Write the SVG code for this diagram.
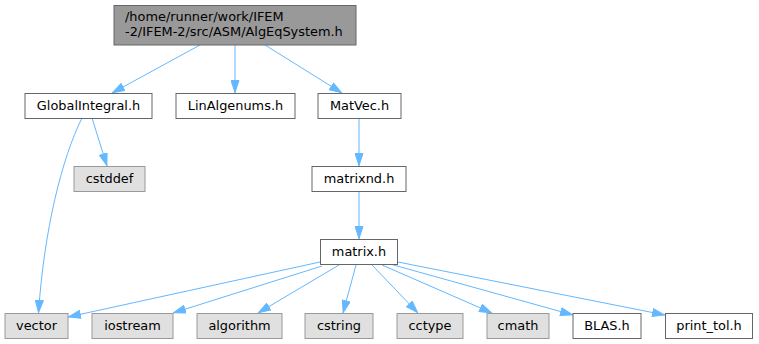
<svg xmlns="http://www.w3.org/2000/svg" width="759" height="344" viewBox="0 0 759 344">
<style>
  .n rect { fill: #ffffff; stroke: #666666; stroke-width: 1; }
  .ext rect { fill: #e0e0e0; stroke: #999999; }
  .root rect { fill: #999999; stroke: #666666; }
  text { font-family: "DejaVu Sans", sans-serif; font-size: 12.9px; fill: #000000; }
  .n text { text-anchor: middle; }
  .root text { text-anchor: start; }
  .e { fill: none; stroke: #63b8ff; stroke-width: 1; marker-end: url(#arr); }
</style>
<defs>
  <marker id="arr" viewBox="0 0 13 9" refX="13" refY="4.5" markerWidth="13" markerHeight="9" markerUnits="userSpaceOnUse" orient="auto">
    <path d="M0.5,0.5 L12.5,4.5 L0.5,8.5 z" fill="#63b8ff" stroke="#63b8ff" stroke-width="1"/>
  </marker>
</defs>
<rect width="759" height="344" fill="#ffffff"/>
<g id="edges">
  <path class="e" d="M200,45 L112,93"/>
  <path class="e" d="M235,45 L235,93"/>
  <path class="e" d="M265,45 L342,93"/>
  <path class="e" d="M92,118 L107,166"/>
  <path class="e" d="M82,118 C62,158 44,230 38.5,313"/>
  <path class="e" d="M359,118 L359,166"/>
  <path class="e" d="M359,192 L359,239"/>
  <path class="e" d="M320,262 L68,317"/>
  <path class="e" d="M322,266 L173,313"/>
  <path class="e" d="M339,265 L258,313"/>
  <path class="e" d="M356,265 L343,313"/>
  <path class="e" d="M372,265 L418,313"/>
  <path class="e" d="M382,265 L492,313"/>
  <path class="e" d="M390,264 L573,315"/>
  <path class="e" d="M398,262 L665,315"/>
</g>
<g id="root" class="root">
  <rect x="114" y="5.5" width="242" height="39.5"/>
  <text x="125" y="20.5">/home/runner/work/IFEM</text>
  <text x="125" y="35.5">-2/IFEM-2/src/ASM/AlgEqSystem.h</text>
</g>
<g id="GlobalIntegral" class="n">
  <rect x="25" y="93.5" width="127" height="25"/>
  <text x="88.5" y="110">GlobalIntegral.h</text>
</g>
<g id="LinAlgenums" class="n">
  <rect x="176" y="93.5" width="119" height="25"/>
  <text x="235.5" y="110">LinAlgenums.h</text>
</g>
<g id="MatVec" class="n">
  <rect x="318" y="93.5" width="83" height="25"/>
  <text x="359.5" y="110">MatVec.h</text>
</g>
<g id="cstddef" class="n ext">
  <rect x="74" y="166.5" width="71" height="25"/>
  <text x="109.5" y="183">cstddef</text>
</g>
<g id="matrixnd" class="n">
  <rect x="312" y="166.5" width="94" height="25"/>
  <text x="359" y="183">matrixnd.h</text>
</g>
<g id="matrix" class="n">
  <rect x="320.5" y="239.5" width="77" height="25"/>
  <text x="359" y="256">matrix.h</text>
</g>
<g id="vector" class="n ext">
  <rect x="5" y="313.5" width="63" height="25"/>
  <text x="36.5" y="330">vector</text>
</g>
<g id="iostream" class="n ext">
  <rect x="92" y="313.5" width="81" height="25"/>
  <text x="132.5" y="330">iostream</text>
</g>
<g id="algorithm" class="n ext">
  <rect x="197" y="313.5" width="85" height="25"/>
  <text x="239.5" y="330">algorithm</text>
</g>
<g id="cstring" class="n ext">
  <rect x="305" y="313.5" width="68" height="25"/>
  <text x="339" y="330">cstring</text>
</g>
<g id="cctype" class="n ext">
  <rect x="397" y="313.5" width="66" height="25"/>
  <text x="430" y="330">cctype</text>
</g>
<g id="cmath" class="n ext">
  <rect x="487" y="313.5" width="62" height="25"/>
  <text x="518" y="330">cmath</text>
</g>
<g id="BLAS" class="n">
  <rect x="573" y="313.5" width="68" height="25"/>
  <text x="607" y="330">BLAS.h</text>
</g>
<g id="print_tol" class="n">
  <rect x="665.5" y="313.5" width="87" height="25"/>
  <text x="709" y="330">print_tol.h</text>
</g>
</svg>
